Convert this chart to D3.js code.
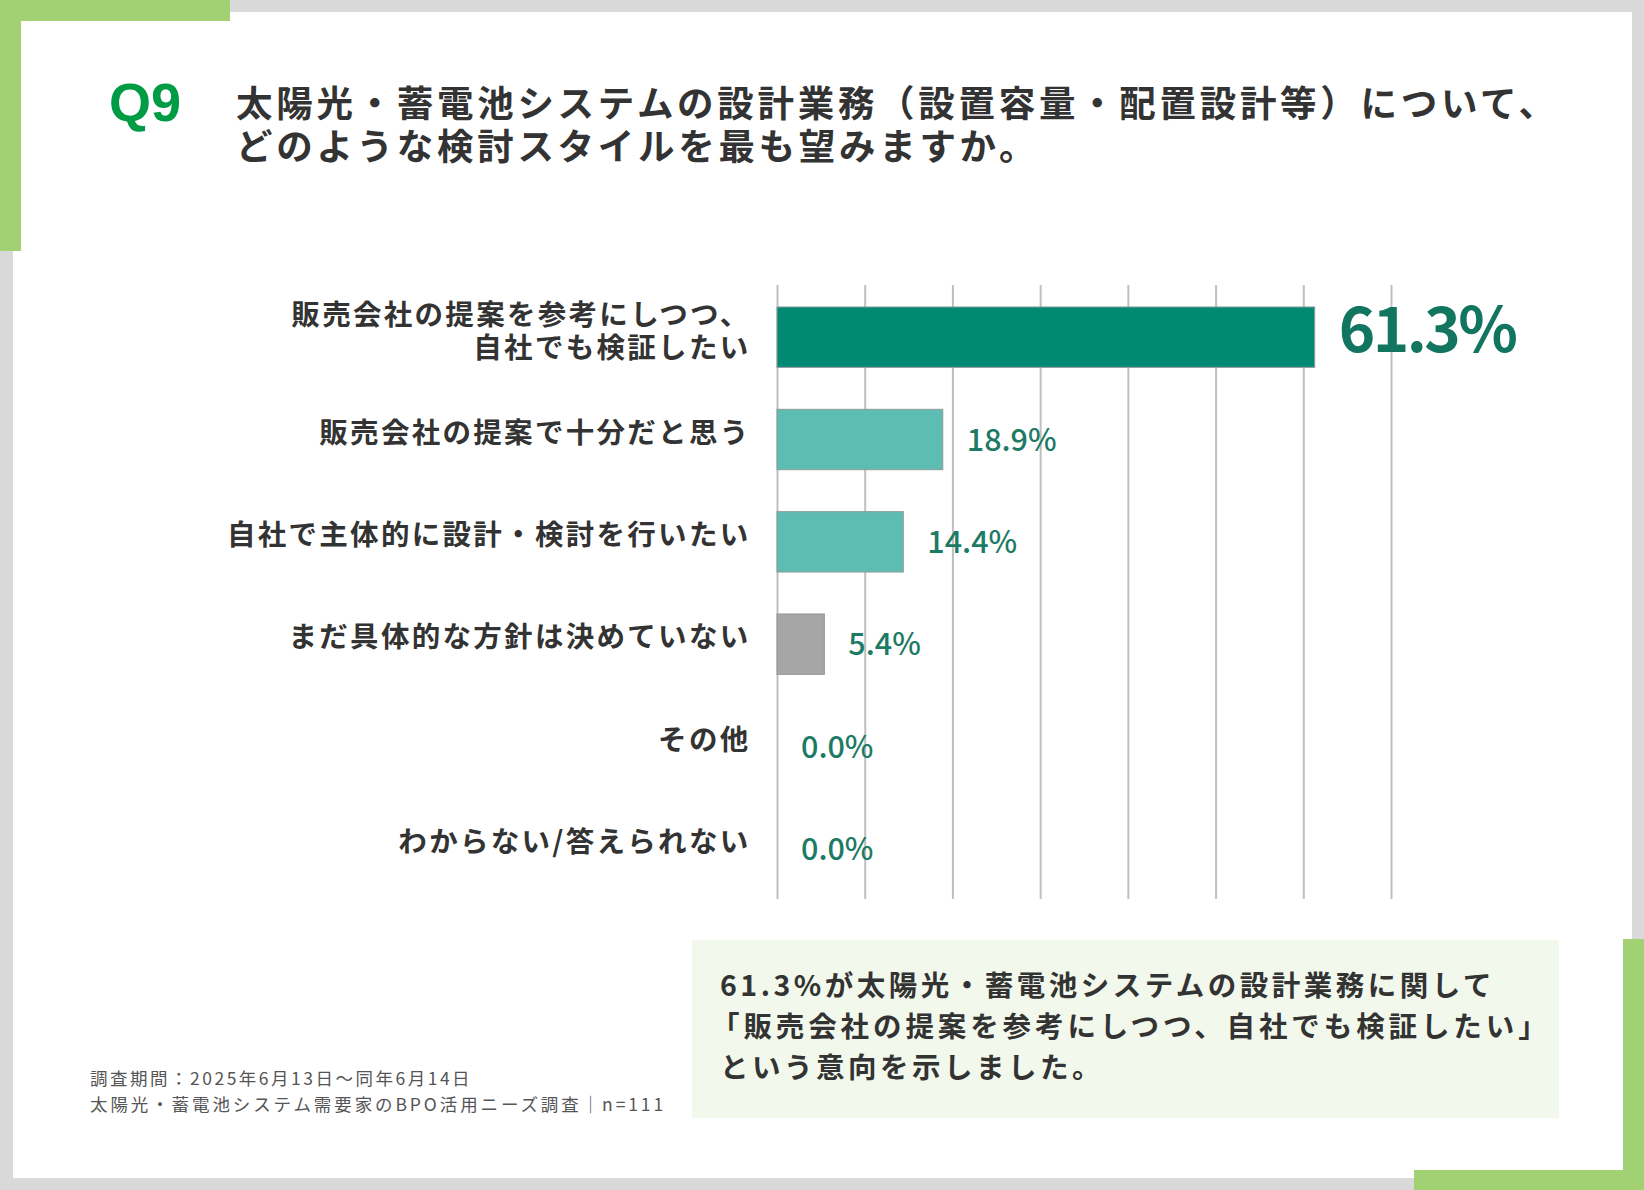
<!DOCTYPE html>
<html><head><meta charset="utf-8">
<script src="https://cdn.jsdelivr.net/npm/d3@7"></script>
<style>html,body{margin:0;padding:0;background:#fff;}svg{display:block;}</style>
</head><body>
<svg id="c" width="1644" height="1190"></svg>
<script>
// ---- data ----
const categories = [
  "販売会社の提案を参考にしつつ、\n自社でも検証したい",
  "販売会社の提案で十分だと思う",
  "自社で主体的に設計・検討を行いたい",
  "まだ具体的な方針は決めていない",
  "その他",
  "わからない/答えられない"
];
const values = [61.3, 18.9, 14.4, 5.4, 0.0, 0.0];
const tickValues = [0, 10, 20, 30, 40, 50, 60, 70];
const titleLines = [
  "太陽光・蓄電池システムの設計業務（設置容量・配置設計等）について、",
  "どのような検討スタイルを最も望みますか。"
];
const noteLines = [
  "61.3%が太陽光・蓄電池システムの設計業務に関して",
  "「販売会社の提案を参考にしつつ、自社でも検証したい」",
  "という意向を示しました。"
];
const footLines = [
  "調査期間：2025年6月13日〜同年6月14日",
  "太陽光・蓄電池システム需要家のBPO活用ニーズ調査｜n=111"
];

// ---- drawing ----
const svg = d3.select("#c");
const JP = "'Noto Sans CJK JP','Noto Sans',sans-serif";
const green = "#a2d173";

// frame
svg.append("rect").attr("x",0).attr("y",0).attr("width",1644).attr("height",1190).attr("fill","#d9d9d9");
svg.append("rect").attr("x",13).attr("y",12).attr("width",1619).attr("height",1166).attr("fill","#ffffff");
svg.append("rect").attr("x",0).attr("y",0).attr("width",230).attr("height",21).attr("fill",green);
svg.append("rect").attr("x",0).attr("y",0).attr("width",21).attr("height",251).attr("fill",green);
svg.append("rect").attr("x",1623).attr("y",939).attr("width",21).attr("height",251).attr("fill",green);
svg.append("rect").attr("x",1414).attr("y",1170).attr("width",230).attr("height",20).attr("fill",green);

// title
svg.append("text").attr("x",109).attr("y",121)
  .attr("font-family","'Liberation Sans',Arial,sans-serif").attr("font-weight","bold")
  .attr("font-size",54).attr("fill","#009b45").text("Q9");
svg.append("g").selectAll("text").data(titleLines).join("text")
  .attr("x",236).attr("y",(d,i)=>117+i*43)
  .attr("font-family",JP).attr("font-weight","bold").attr("font-size",36.5)
  .attr("letter-spacing",3.7).attr("fill","#333333").text(d=>d);

// scales
const x = d3.scaleLinear().domain([0,70]).range([777,1391]);
const y = d3.scaleBand().domain(categories).range([285,899]).paddingInner(0.41).paddingOuter(0.205);
const color = d3.scaleOrdinal().domain(categories)
  .range(["#008a74","#5dbdb2","#5dbdb2","#a6a6a6","#a6a6a6","#a6a6a6"]);

// gridlines via axis
const grid = svg.append("g").attr("transform","translate(0,285)")
  .call(d3.axisBottom(x).tickValues(tickValues).tickSize(614).tickFormat(""));
grid.select(".domain").remove();
grid.selectAll(".tick line").attr("stroke","#bfbfbf").attr("stroke-width",2);

// bars
svg.append("g").selectAll("rect").data(values).join("rect")
  .attr("x",x(0)).attr("y",(d,i)=>y(categories[i])+1)
  .attr("width",d=>Math.max(0,x(d)-x(0))).attr("height",y.bandwidth())
  .attr("fill",(d,i)=>color(categories[i]))
  .attr("stroke",(d)=>d>0?"#8f9a98":"none").attr("stroke-width",1);

// value labels
svg.append("g").selectAll("text").data(values).join("text")
  .attr("x",d=>x(d)+24)
  .attr("y",(d,i)=>y(categories[i])+y.bandwidth()/2+(i===0?16:12))
  .attr("font-family",JP)
  .attr("font-weight",(d,i)=>i===0?"bold":"500")
  .attr("font-size",(d,i)=>i===0?62:30.5)
  .attr("letter-spacing",(d,i)=>i===0?-2.6:0)
  .attr("fill",(d,i)=>i===0?"#117560":"#1d7a64")
  .text(d=>d.toFixed(1)+"%");

// category labels
const cat = svg.append("g").selectAll("text").data(categories).join("text")
  .attr("text-anchor","end")
  .attr("font-family",JP).attr("font-weight","bold").attr("font-size",28.5)
  .attr("letter-spacing",2.3).attr("fill","#333333");
cat.each(function(d){
  const lines = d.split("\n");
  const cy = y(d)+y.bandwidth()/2;
  const t = d3.select(this);
  lines.forEach((ln,j)=>{
    const off = lines.length===1 ? 4 : (j===0 ? -11 : 22);
    t.append("tspan").attr("x",750.5).attr("y",cy+off).text(ln);
  });
});

// annotation box
svg.append("rect").attr("x",692).attr("y",940).attr("width",867).attr("height",178).attr("fill","#f2f8ec");
svg.append("g").selectAll("text").data(noteLines).join("text")
  .attr("x",(d,i)=>i===1?711:720).attr("y",(d,i)=>996+i*41)
  .attr("font-family",JP).attr("font-weight","bold").attr("font-size",28.5)
  .attr("letter-spacing",(d,i)=>i===1?3.9:3.5).attr("fill","#333333").text(d=>d);

// footnote
svg.append("g").selectAll("text").data(footLines).join("text")
  .attr("x",90).attr("y",(d,i)=>1085+i*26)
  .attr("font-family",JP).attr("font-weight","normal").attr("font-size",17.5)
  .attr("letter-spacing",(d,i)=>i===0?2.5:2.9).attr("fill","#555555").text(d=>d);
</script>
</body></html>
